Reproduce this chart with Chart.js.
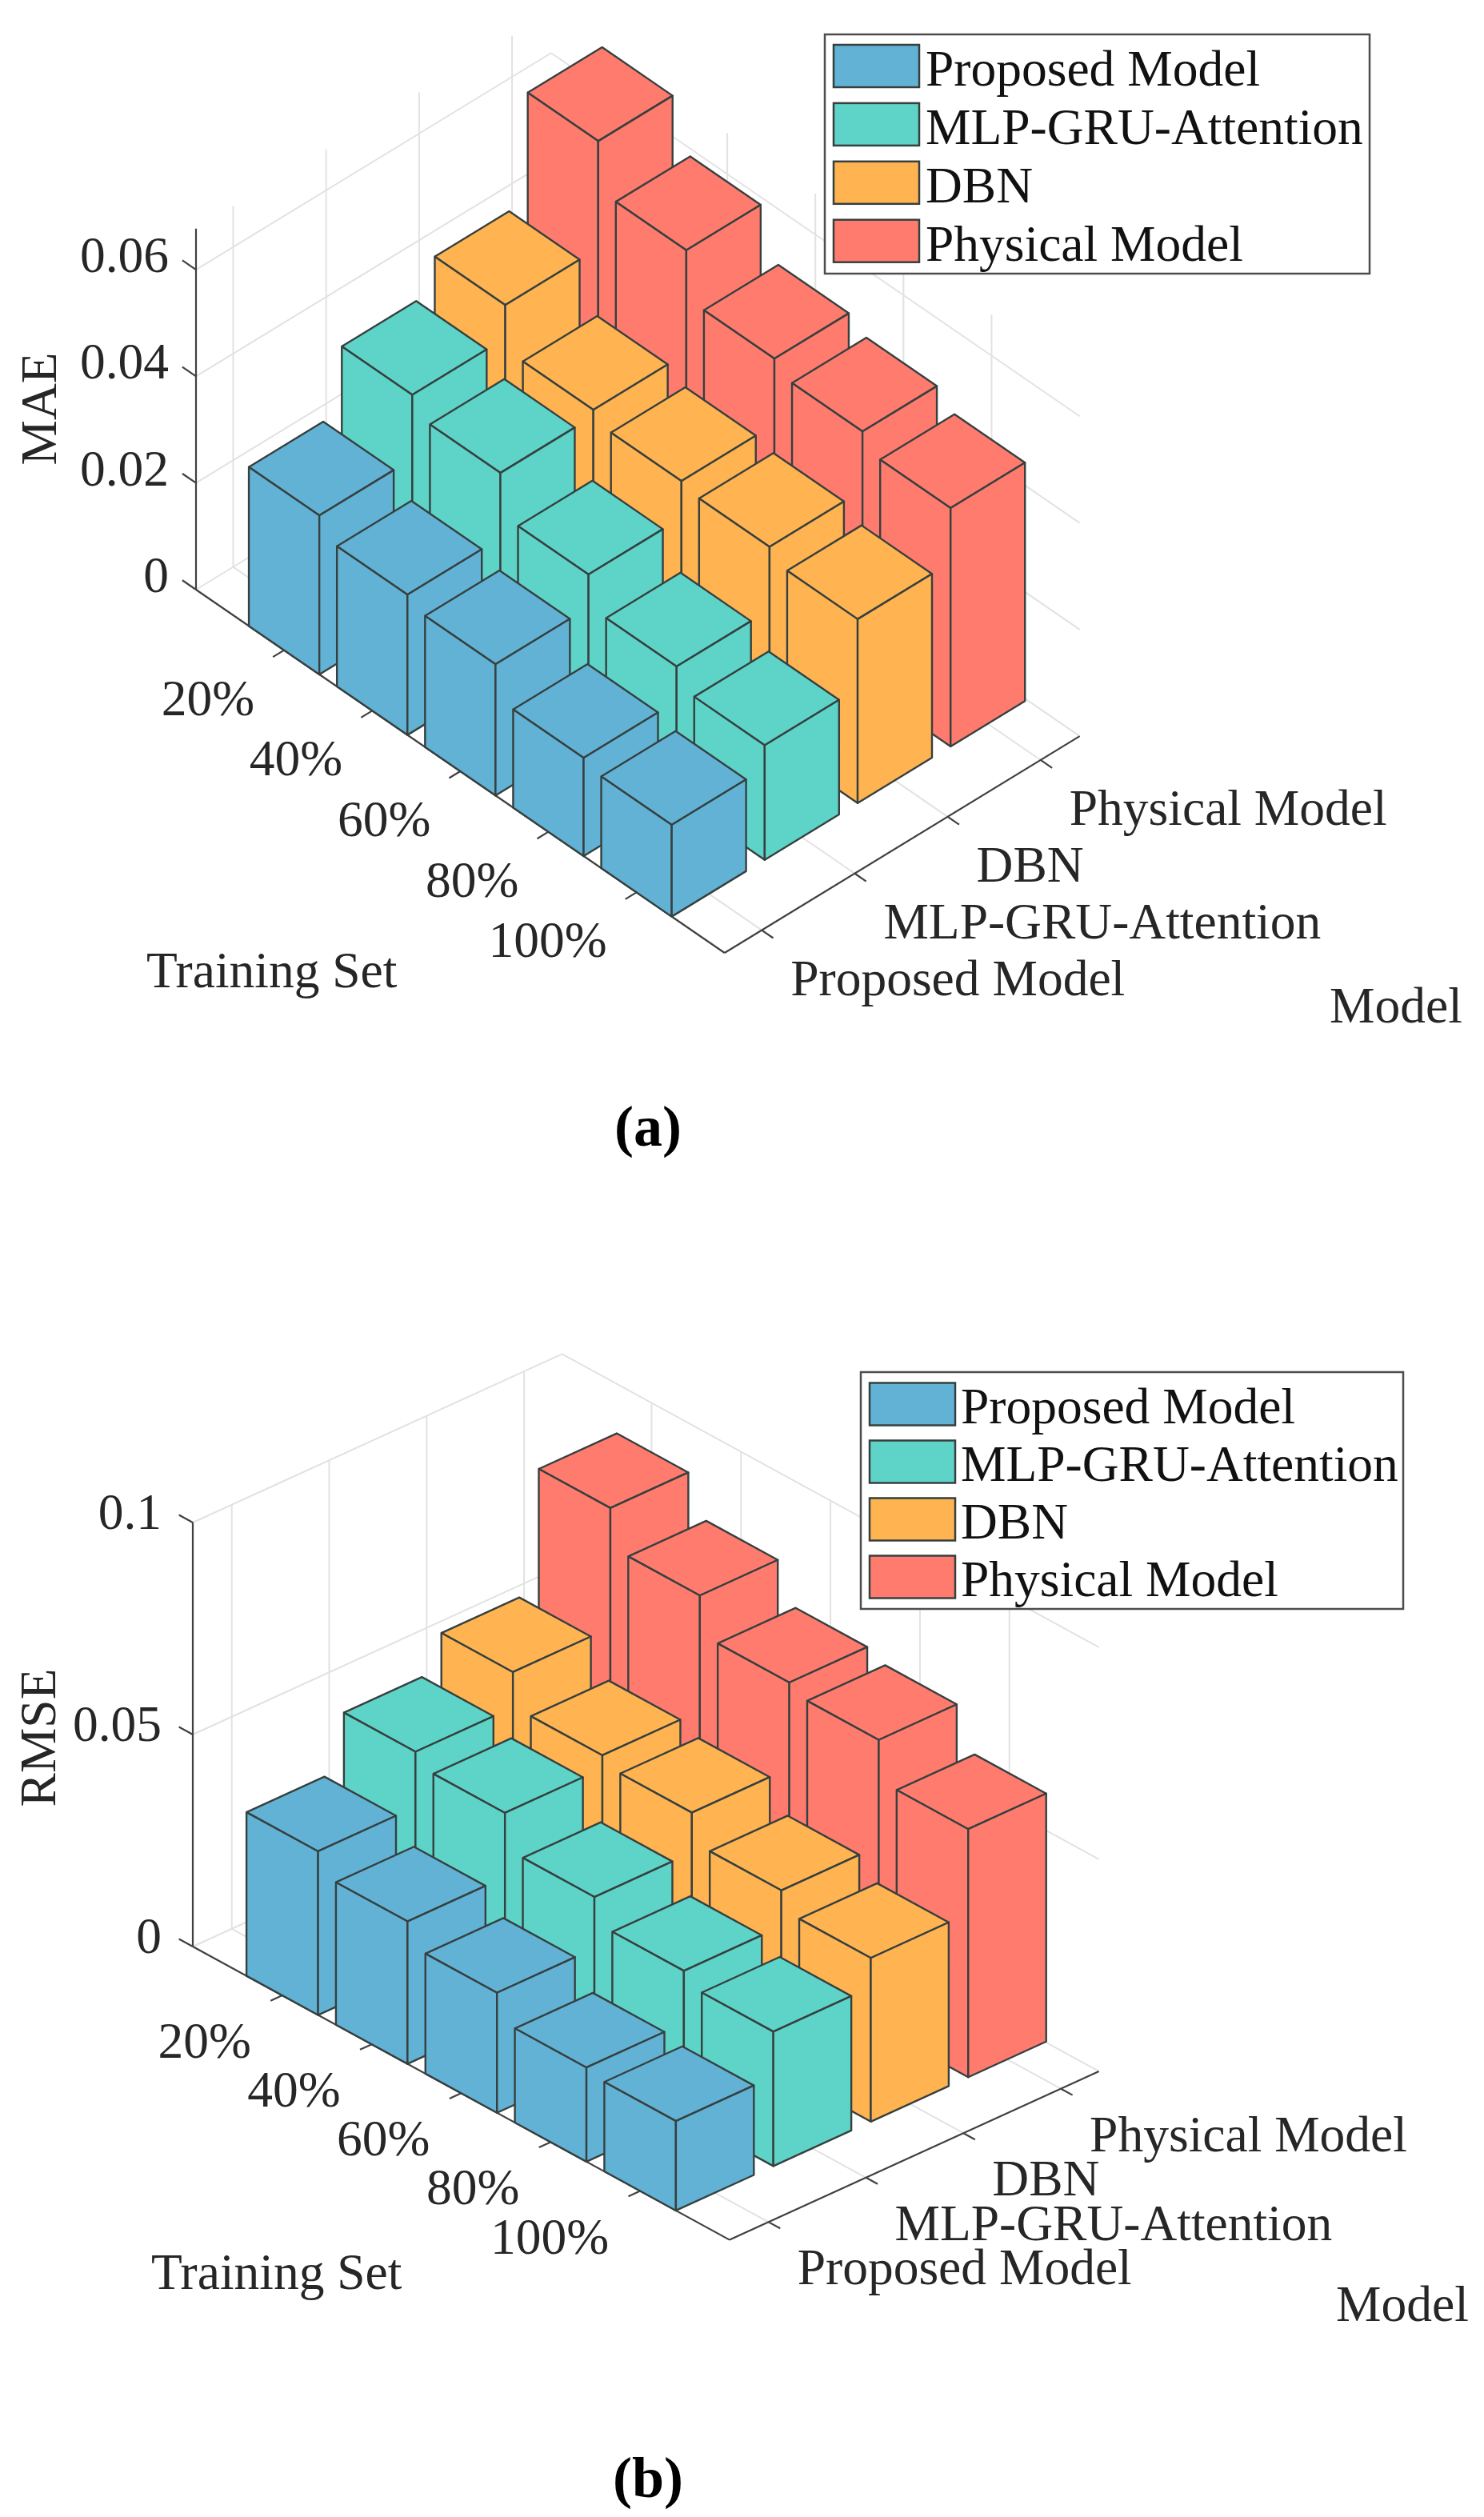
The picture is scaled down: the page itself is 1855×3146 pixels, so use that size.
<!DOCTYPE html>
<html>
<head>
<meta charset="utf-8">
<title>MAE and RMSE by training set and model</title>
<script src="https://cdn.jsdelivr.net/npm/chart.js@4/dist/chart.umd.js"></script>
<style>
  body { margin: 0; background: #fff; }
  canvas { position: absolute; left: 0; }
</style>
</head>
<body>
<canvas id="chartMae" width="1855" height="1573" style="top:0"></canvas>
<canvas id="chartRmse" width="1855" height="1573" style="top:1573px"></canvas>
<script>
const trainingSets = ["20%", "40%", "60%", "80%", "100%"];
const models = ["Proposed Model", "MLP-GRU-Attention", "DBN", "Physical Model"];

const maeProposed = [0.0298, 0.0263, 0.0246, 0.0184, 0.0172];
const maeMlp = [0.0418, 0.0385, 0.0308, 0.0249, 0.0215];
const maeDbn = [0.048, 0.0397, 0.0377, 0.0367, 0.0345];
const maePhysical = [0.0681, 0.059, 0.05, 0.0477, 0.0447];
const maeTicks = [0, 0.02, 0.04, 0.06];

const rmseProposed = [0.0386, 0.0336, 0.0283, 0.0222, 0.0211];
const rmseMlp = [0.0516, 0.0487, 0.0404, 0.0345, 0.0317];
const rmseDbn = [0.0599, 0.0518, 0.0498, 0.043, 0.0386];
const rmsePhysical = [0.0881, 0.079, 0.07, 0.068, 0.0585];
const rmseTicks = [0, 0.05, 0.1];

const colors = ["#62b2d6", "#5ed4c8", "#ffb351", "#ff7b6e"];
const edgeColor = "#36403f";
const gridColor = "#e2e2e2";
const axisColor = "#404040";
const textColor = "#262626";
const font = '"Liberation Serif"';
const barHalf = 0.4;

// projection of the 3d axes on to the page, one view per panel
const viewMae = {
  top: 0, origin: [245, 737], xUnit: [110.12, 75.67], yUnit: [116.2, -70.9], zUnit: 6665,
  yMin: 0.6, yMax: 4.42, zMax: 0.0677,
  zLabelX: 211, zLabelDy: 3, xLabelOff: [-37, 81], yLabelOff: [36, 81],
  zTitle: "MAE", zTitlePos: [70, 511],
  xTitlePos: [183, 1234], yTitlePos: [1662, 1278],
  tag: "(a)", tagPos: [810, 1432],
  legend: { left: 1031, right: 1712, top: 43, bottom: 342, swatchLeft: 1042, swatchRight: 1149, swatchTop: 56, swatchH: 53, rowH: 72.9, textLeft: 1157, textDy: 51 },
};
const viewRmse = {
  top: 1573, origin: [241, 2433], xUnit: [111.83, 61.1], yUnit: [121.8, -55.57], zUnit: 5300,
  yMin: 0.6, yMax: 4.39, zMax: 0.1,
  zLabelX: 202, zLabelDy: 8, xLabelOff: [-39, 78], yLabelOff: [36, 78],
  zTitle: "RMSE", zTitlePos: [69, 2172],
  xTitlePos: [189, 2861], yTitlePos: [1670, 2901],
  tag: "(b)", tagPos: [810, 3121],
  legend: { left: 1076, right: 1754, top: 1715, bottom: 2011, swatchLeft: 1087, swatchRight: 1194, swatchTop: 1728.5, swatchH: 53, rowH: 72, textLeft: 1201, textDy: 50.5 },
};

function project(view, x, y, z) {
  return {
    x: view.origin[0] + x * view.xUnit[0] + (y - view.yMin) * view.yUnit[0],
    y: view.origin[1] + x * view.xUnit[1] + (y - view.yMin) * view.yUnit[1] - z * view.zUnit,
  };
}

function lineDataset(points, color, width) {
  return {
    data: points, showLine: true, fill: false, borderColor: color, borderWidth: width,
    pointRadius: 0, tension: 0, borderCapStyle: "butt",
  };
}

function faceDataset(points, color) {
  return {
    data: points.concat([points[0]]), showLine: true, fill: "shape", backgroundColor: color,
    borderColor: edgeColor, borderWidth: 2.4, pointRadius: 0, tension: 0, borderJoinStyle: "round",
  };
}

function gridDatasets(view, zTicks) {
  const sets = [];
  const xMax = 6;
  const add = (a, b) => sets.push(lineDataset([project(view, ...a), project(view, ...b)], gridColor, 2));

  // walls
  zTicks.forEach((z) => {
    add([0, view.yMin, z], [0, view.yMax, z]);
    add([0, view.yMax, z], [xMax, view.yMax, z]);
  });
  models.forEach((m, j) => {
    add([0, j + 1, 0], [0, j + 1, view.zMax]);
    add([0, j + 1, 0], [xMax, j + 1, 0]);
  });
  trainingSets.forEach((t, i) => {
    add([i + 1, view.yMax, 0], [i + 1, view.yMax, view.zMax]);
    add([i + 1, view.yMin, 0], [i + 1, view.yMax, 0]);
  });

  // dark axes and their tick marks
  const dark = (a, b) => sets.push(lineDataset([project(view, ...a), project(view, ...b)], axisColor, 2.2));
  dark([0, view.yMin, 0], [0, view.yMin, view.zMax]);
  dark([0, view.yMin, 0], [xMax, view.yMin, 0]);
  dark([xMax, view.yMin, 0], [xMax, view.yMax, 0]);
  zTicks.forEach((z) => dark([0, view.yMin, z], [-0.155, view.yMin, z]));
  trainingSets.forEach((t, i) => dark([i + 1, view.yMin, 0], [i + 1, view.yMin - 0.12, 0]));
  models.forEach((m, j) => dark([xMax, j + 1, 0], [xMax + 0.13, j + 1, 0]));
  return sets;
}

function barDatasets(view, series) {
  const sets = [];
  // back row first, so that nearer bars paint over it
  for (let j = series.length - 1; j >= 0; j--) {
    series[j].forEach((value, i) => {
      const x0 = i + 1 - barHalf;
      const x1 = i + 1 + barHalf;
      const y0 = j + 1 - barHalf;
      const y1 = j + 1 + barHalf;
      const p = (x, y, z) => project(view, x, y, z);
      sets.push(faceDataset([p(x0, y0, value), p(x0, y1, value), p(x1, y1, value), p(x1, y0, value)], colors[j]));
      sets.push(faceDataset([p(x0, y0, 0), p(x1, y0, 0), p(x1, y0, value), p(x0, y0, value)], colors[j]));
      sets.push(faceDataset([p(x1, y0, 0), p(x1, y1, 0), p(x1, y1, value), p(x1, y0, value)], colors[j]));
    });
  }
  return sets;
}

function labelPlugin(view, zTicks) {
  return {
    id: "labels3d",
    afterDatasetsDraw(chart) {
      const ctx = chart.ctx;
      const sx = chart.scales.x;
      const sy = chart.scales.y;
      const put = (text, x, y, align) => {
        ctx.font = "63.5px " + font;
        ctx.textAlign = align;
        ctx.textBaseline = "alphabetic";
        ctx.fillText(text, sx.getPixelForValue(x), sy.getPixelForValue(y));
      };
      ctx.save();
      ctx.fillStyle = textColor;

      zTicks.forEach((z) => {
        const p = project(view, 0, view.yMin, z);
        put(String(z), view.zLabelX, p.y + view.zLabelDy, "right");
      });
      trainingSets.forEach((t, i) => {
        const p = project(view, i + 1, view.yMin, 0);
        put(t, p.x + view.xLabelOff[0], p.y + view.xLabelOff[1], "right");
      });
      models.forEach((m, j) => {
        const p = project(view, 6, j + 1, 0);
        put(m, p.x + view.yLabelOff[0], p.y + view.yLabelOff[1], "left");
      });
      put("Training Set", view.xTitlePos[0], view.xTitlePos[1], "left");
      put("Model", view.yTitlePos[0], view.yTitlePos[1], "left");

      ctx.save();
      ctx.translate(sx.getPixelForValue(view.zTitlePos[0]), sy.getPixelForValue(view.zTitlePos[1]));
      ctx.rotate(-Math.PI / 2);
      ctx.font = "63.5px " + font;
      ctx.textAlign = "center";
      ctx.fillText(view.zTitle, 0, 0);
      ctx.restore();

      ctx.font = "bold 72px " + font;
      ctx.textAlign = "center";
      ctx.fillStyle = "#000";
      ctx.fillText(view.tag, sx.getPixelForValue(view.tagPos[0]), sy.getPixelForValue(view.tagPos[1]));

      // legend box
      const lg = view.legend;
      const top = sy.getPixelForValue(lg.top);
      ctx.fillStyle = "#fff";
      ctx.strokeStyle = "#4d4d4d";
      ctx.lineWidth = 2.5;
      ctx.fillRect(lg.left, top, lg.right - lg.left, lg.bottom - lg.top);
      ctx.strokeRect(lg.left, top, lg.right - lg.left, lg.bottom - lg.top);
      models.forEach((m, k) => {
        const rowTop = sy.getPixelForValue(lg.swatchTop + k * lg.rowH);
        ctx.fillStyle = colors[k];
        ctx.strokeStyle = edgeColor;
        ctx.fillRect(lg.swatchLeft, rowTop, lg.swatchRight - lg.swatchLeft, lg.swatchH);
        ctx.strokeRect(lg.swatchLeft, rowTop, lg.swatchRight - lg.swatchLeft, lg.swatchH);
        ctx.fillStyle = "#111";
        put(m, lg.textLeft, lg.swatchTop + k * lg.rowH + lg.textDy, "left");
      });
      ctx.restore();
    },
  };
}

function renderChart(canvasId, view, series, zTicks) {
  const datasets = gridDatasets(view, zTicks).concat(barDatasets(view, series));
  // chart.js paints the last dataset first
  datasets.reverse();
  return new Chart(document.getElementById(canvasId), {
    type: "scatter",
    data: { datasets: datasets },
    options: {
      responsive: false,
      animation: false,
      layout: { padding: 0 },
      plugins: {
        legend: { display: false },
        tooltip: { enabled: false },
        filler: { drawTime: "beforeDatasetDraw", propagate: false },
      },
      scales: {
        x: { type: "linear", display: false, min: 0, max: 1855 },
        y: { type: "linear", display: false, reverse: true, min: view.top, max: view.top + 1573 },
      },
    },
    plugins: [labelPlugin(view, zTicks)],
  });
}

renderChart("chartMae", viewMae, [maeProposed, maeMlp, maeDbn, maePhysical], maeTicks);
renderChart("chartRmse", viewRmse, [rmseProposed, rmseMlp, rmseDbn, rmsePhysical], rmseTicks);
</script>
</body>
</html>
